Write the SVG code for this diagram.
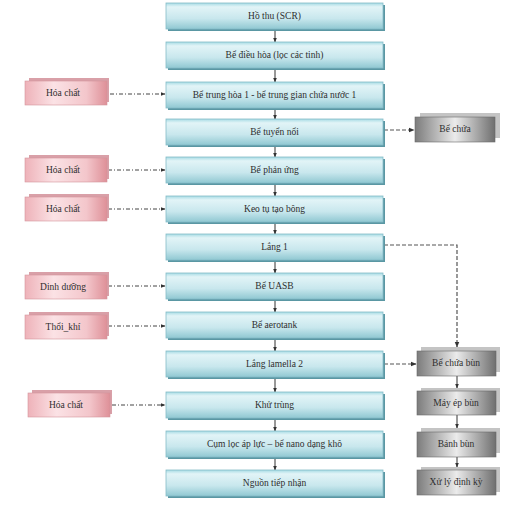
<svg xmlns="http://www.w3.org/2000/svg" width="521" height="506" viewBox="0 0 521 506">
<defs>
<linearGradient id="gMain" x1="0" y1="0" x2="0" y2="1">
<stop offset="0" stop-color="#a6dbe4"/><stop offset="0.15" stop-color="#e2f4f7"/><stop offset="0.6" stop-color="#c8e7ed"/><stop offset="1" stop-color="#90c8d2"/>
</linearGradient>
<linearGradient id="gPink" x1="0" y1="0" x2="1" y2="0">
<stop offset="0" stop-color="#eeb2b9"/><stop offset="0.35" stop-color="#fbe2e5"/><stop offset="0.75" stop-color="#f3c6cb"/><stop offset="1" stop-color="#de9098"/>
</linearGradient>
<linearGradient id="gGray" x1="0" y1="0" x2="1" y2="0">
<stop offset="0" stop-color="#7c7c7c"/><stop offset="0.5" stop-color="#ebebeb"/><stop offset="1" stop-color="#6f6f6f"/>
</linearGradient>
<marker id="ah" viewBox="0 0 10 10" refX="9" refY="5" markerWidth="5" markerHeight="5" orient="auto">
<path d="M0,1 L10,5 L0,9 z" fill="#333"/>
</marker>
</defs>
<style>
text{font-family:"Liberation Serif","Times New Roman",serif;font-size:9.5px;fill:#2e2e2e;text-anchor:middle;dominant-baseline:central}
.mainShadow{fill:#5a97a3}
.main{fill:url(#gMain);stroke:#86bcc7;stroke-width:0.8}
.pinkBack{fill:#d9a0a8}
.pink{fill:url(#gPink);stroke:#d3959c;stroke-width:0.6}
.grayBack{fill:#c4c4c4}
.gray{fill:url(#gGray);stroke:#6a6a6a;stroke-width:0.6}
.flow{stroke:#333;stroke-width:1;fill:none;marker-end:url(#ah)}
.dash{stroke:#444;stroke-width:1;fill:none;stroke-dasharray:4,2,1,2;marker-end:url(#ah)}
.dash2{stroke:#555;stroke-width:1.2;fill:none;stroke-dasharray:4,2;marker-end:url(#ah)}
</style>

<g id="connectors">
<line class="flow" x1="275" y1="29" x2="275" y2="42"/>
<line class="flow" x1="275" y1="68" x2="275" y2="82"/>
<line class="flow" x1="275" y1="108" x2="275" y2="119"/>
<line class="flow" x1="275" y1="145" x2="275" y2="157"/>
<line class="flow" x1="275" y1="183" x2="275" y2="196"/>
<line class="flow" x1="275" y1="222" x2="275" y2="234"/>
<line class="flow" x1="275" y1="260" x2="275" y2="273"/>
<line class="flow" x1="275" y1="299" x2="275" y2="312"/>
<line class="flow" x1="275" y1="338" x2="275" y2="351"/>
<line class="flow" x1="275" y1="377" x2="275" y2="392"/>
<line class="flow" x1="275" y1="418" x2="275" y2="431"/>
<line class="flow" x1="275" y1="457" x2="275" y2="470"/>
<line class="dash" x1="110" y1="94" x2="165" y2="94"/>
<line class="dash" x1="108" y1="170" x2="165" y2="170"/>
<line class="dash" x1="108" y1="209" x2="165" y2="209"/>
<line class="dash" x1="108" y1="286" x2="165" y2="286"/>
<line class="dash" x1="108" y1="326" x2="165" y2="326"/>
<line class="dash" x1="112" y1="405" x2="165" y2="405"/>
<line class="dash2" x1="384" y1="130" x2="414" y2="130"/>
<path class="dash2" d="M384,245 H457 V347"/>
<line class="dash2" x1="384" y1="364" x2="416" y2="364"/>
<line class="flow" x1="457" y1="376" x2="457" y2="388"/>
<line class="flow" x1="457" y1="415" x2="457" y2="428"/>
<line class="flow" x1="457" y1="457" x2="457" y2="467"/>
</g>

<g id="n1"><rect class="mainShadow" x="168" y="5" width="217" height="26"/><rect class="main" x="166" y="3" width="217" height="26"/><text x="274.5" y="16">Hồ thu (SCR)</text></g>
<g id="n2"><rect class="mainShadow" x="168" y="44" width="217" height="26"/><rect class="main" x="166" y="42" width="217" height="26"/><text x="274.5" y="55">Bể điều hòa (lọc các tinh)</text></g>
<g id="n3"><rect class="mainShadow" x="168" y="84" width="217" height="26"/><rect class="main" x="166" y="82" width="217" height="26"/><text x="274.5" y="95">Bể trung hòa 1 - bể trung gian chứa nước 1</text></g>
<g id="n4"><rect class="mainShadow" x="168" y="121" width="217" height="26"/><rect class="main" x="166" y="119" width="217" height="26"/><text x="274.5" y="132">Bể tuyển nổi</text></g>
<g id="n5"><rect class="mainShadow" x="168" y="159" width="217" height="26"/><rect class="main" x="166" y="157" width="217" height="26"/><text x="274.5" y="170">Bể phản ứng</text></g>
<g id="n6"><rect class="mainShadow" x="168" y="198" width="217" height="26"/><rect class="main" x="166" y="196" width="217" height="26"/><text x="274.5" y="209">Keo tụ tạo bông</text></g>
<g id="n7"><rect class="mainShadow" x="168" y="236" width="217" height="26"/><rect class="main" x="166" y="234" width="217" height="26"/><text x="274.5" y="247">Lắng 1</text></g>
<g id="n8"><rect class="mainShadow" x="168" y="275" width="217" height="26"/><rect class="main" x="166" y="273" width="217" height="26"/><text x="274.5" y="286">Bể UASB</text></g>
<g id="n9"><rect class="mainShadow" x="168" y="314" width="217" height="26"/><rect class="main" x="166" y="312" width="217" height="26"/><text x="274.5" y="325">Bể aerotank</text></g>
<g id="n10"><rect class="mainShadow" x="168" y="353" width="217" height="26"/><rect class="main" x="166" y="351" width="217" height="26"/><text x="274.5" y="364">Lắng lamella 2</text></g>
<g id="n11"><rect class="mainShadow" x="168" y="394" width="217" height="26"/><rect class="main" x="166" y="392" width="217" height="26"/><text x="274.5" y="405">Khử trùng</text></g>
<g id="n12"><rect class="mainShadow" x="168" y="433" width="217" height="26"/><rect class="main" x="166" y="431" width="217" height="26"/><text x="274.5" y="444">Cụm lọc áp lực – bể nano dạng khô</text></g>
<g id="n13"><rect class="mainShadow" x="168" y="472" width="217" height="26"/><rect class="main" x="166" y="470" width="217" height="26"/><text x="274.5" y="483">Nguồn tiếp nhận</text></g>

<g id="l1"><rect class="pinkBack" x="29" y="78" width="80" height="24"/><rect class="pink" x="25" y="81" width="82" height="24"/><text x="63" y="93">Hóa chất</text></g>
<g id="l2"><rect class="pinkBack" x="29" y="155" width="80" height="24"/><rect class="pink" x="25" y="158" width="82" height="24"/><text x="63" y="170">Hóa chất</text></g>
<g id="l3"><rect class="pinkBack" x="29" y="194" width="80" height="24"/><rect class="pink" x="25" y="197" width="82" height="24"/><text x="63" y="209">Hóa chất</text></g>
<g id="l4"><rect class="pinkBack" x="29" y="272" width="80" height="24"/><rect class="pink" x="25" y="275" width="82" height="24"/><text x="63" y="287">Dinh dưỡng</text></g>
<g id="l5"><rect class="pinkBack" x="29" y="312" width="80" height="24"/><rect class="pink" x="25" y="315" width="82" height="24"/><text x="63" y="327">Thổi_khí</text></g>
<g id="l6"><rect class="pinkBack" x="32" y="390" width="80" height="24"/><rect class="pink" x="28" y="393" width="82" height="24"/><text x="66" y="405">Hóa chất</text></g>

<g id="r1"><rect class="grayBack" x="420" y="113" width="80" height="25"/><rect class="gray" x="415" y="117" width="80" height="25"/><text x="455" y="129">Bể chứa</text></g>
<g id="r2"><rect class="grayBack" x="421" y="347" width="79" height="25"/><rect class="gray" x="417" y="351" width="79" height="25"/><text x="456" y="363">Bể chứa bùn</text></g>
<g id="r3"><rect class="grayBack" x="421" y="388" width="79" height="24"/><rect class="gray" x="417" y="391" width="79" height="24"/><text x="456" y="403">Máy ép bùn</text></g>
<g id="r4"><rect class="grayBack" x="421" y="428" width="79" height="25"/><rect class="gray" x="417" y="432" width="79" height="25"/><text x="456" y="444">Bánh bùn</text></g>
<g id="r5"><rect class="grayBack" x="421" y="467" width="79" height="25"/><rect class="gray" x="417" y="470" width="79" height="25"/><text x="456" y="482">Xử lý định kỳ</text></g>
</svg>
